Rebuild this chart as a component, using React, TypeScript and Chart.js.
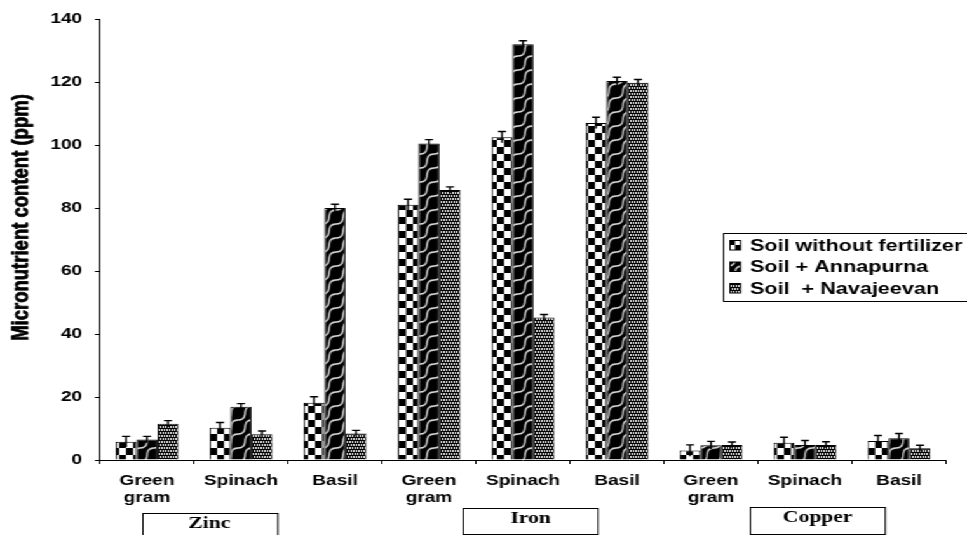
import React, { useEffect, useRef } from 'react';
import { Chart, registerables } from 'chart.js';

Chart.register(...registerables);

// ---- data ----
const cropLabels: (string | string[])[] = [
  ['Green', 'gram'], 'Spinach', 'Basil',
  ['Green', 'gram'], 'Spinach', 'Basil',
  ['Green', 'gram'], 'Spinach', 'Basil',
];
const nutrientGroups = ['Zinc', 'Iron', 'Copper'];
const seriesNames = ['Soil without fertilizer', 'Soil + Annapurna', 'Soil  + Navajeevan'];

const soilWithoutFertilizer = [5.8, 10.2, 18.2, 81.0, 102.5, 107.0, 3.0, 5.5, 6.0];
const soilAnnapurna = [6.5, 16.9, 80.0, 100.5, 132.0, 120.3, 4.7, 4.8, 6.9];
const soilNavajeevan = [11.5, 8.2, 8.4, 85.7, 45.2, 119.8, 4.8, 4.8, 3.7];

const errWithoutFertilizer = [1.7, 1.7, 1.9, 1.8, 1.8, 1.8, 1.8, 1.7, 1.8];
const errAnnapurna = [1.0, 1.0, 1.2, 1.2, 1.1, 1.2, 1.2, 1.4, 1.5];
const errNavajeevan = [1.0, 1.0, 1.0, 1.0, 1.0, 1.0, 0.9, 1.0, 1.0];

const yMin = 0;
const yMax = 140;
const yStep = 20;
const yTitle = 'Micronutrient content (ppm)';

// ---- layout ----
// The chart is drawn on a narrower canvas and widened horizontally,
// which gives the broad bold lettering of the printed figure.
const STRETCH = 967 / 761;
const BASE_W = 761;
const BASE_H = 535;
const FONT = 'Liberation Sans';

function makeTile(w: number, h: number) {
  const c = document.createElement('canvas');
  c.width = w;
  c.height = h;
  return c;
}

function makePatterns(ctx: CanvasRenderingContext2D): CanvasPattern[] {
  const squeeze = new DOMMatrix([1 / STRETCH, 0, 0, 1, 0, 0]);

  // coarse checkerboard
  const a = makeTile(14, 14);
  const ac = a.getContext('2d')!;
  ac.fillStyle = '#fff';
  ac.fillRect(0, 0, 14, 14);
  ac.fillStyle = '#000';
  ac.fillRect(0, 0, 7, 7);
  ac.fillRect(7, 7, 7, 7);
  const pa = ctx.createPattern(a, 'repeat')!;
  pa.setTransform(squeeze);

  // black with pale braided diagonals
  const b = makeTile(14, 14);
  const bc = b.getContext('2d')!;
  bc.fillStyle = '#000';
  bc.fillRect(0, 0, 14, 14);
  bc.strokeStyle = '#d8d8d8';
  bc.lineWidth = 1.7;
  const wave = (ox: number, oy: number) => {
    bc.beginPath();
    for (let i = 0; i <= 28; i++) {
      const t = i / 28;
      const off = 2.4 * Math.sin(2 * Math.PI * t);
      const x = 14 * t + off / Math.SQRT2 + ox;
      const y = 14 - 14 * t + off / Math.SQRT2 + oy;
      if (i === 0) bc.moveTo(x, y);
      else bc.lineTo(x, y);
    }
    bc.stroke();
  };
  [[0, 0], [14, 0], [-14, 0], [0, 14], [0, -14]].forEach(([x, y]) => wave(x, y));
  const pb = ctx.createPattern(b, 'repeat')!;
  pb.setTransform(squeeze);

  // fine staggered dots, built on whole canvas pixels
  const c = makeTile(4, 6);
  const cc = c.getContext('2d')!;
  cc.fillStyle = '#000';
  cc.fillRect(0, 0, 4, 6);
  cc.fillStyle = '#fff';
  cc.fillRect(0, 0, 1, 2);
  cc.fillRect(2, 0, 1, 2);
  cc.fillRect(1, 3, 1, 2);
  cc.fillRect(3, 3, 1, 2);
  const pc = ctx.createPattern(c, 'repeat')!;

  return [pa, pb, pc];
}

const errorBarsPlugin = {
  id: 'errorBars',
  afterDatasetsDraw(chart: any) {
    const { ctx, scales } = chart;
    const errs = [errWithoutFertilizer, errAnnapurna, errNavajeevan];
    ctx.save();
    ctx.strokeStyle = '#000';
    ctx.lineWidth = 1.4;
    chart.data.datasets.forEach((ds: any, di: number) => {
      const meta = chart.getDatasetMeta(di);
      meta.data.forEach((bar: any, i: number) => {
        const v = ds.data[i];
        const e = errs[di][i];
        const yTop = scales.y.getPixelForValue(v + e);
        const yBot = scales.y.getPixelForValue(v - e);
        const half = 4 / STRETCH;
        ctx.beginPath();
        ctx.moveTo(bar.x, yBot);
        ctx.lineTo(bar.x, yTop);
        ctx.moveTo(bar.x - half, yTop);
        ctx.lineTo(bar.x + half, yTop);
        ctx.stroke();
      });
    });
    ctx.restore();
  },
};

const decorPlugin = {
  id: 'decor',
  afterDraw(chart: any) {
    const { ctx, scales } = chart;
    ctx.save();
    ctx.fillStyle = '#000';
    ctx.strokeStyle = '#000';

    // y axis title, set heavy and tight
    ctx.save();
    ctx.translate(28.3 / STRETCH, 217.5);
    ctx.rotate(-Math.PI / 2);
    ctx.font = `bold 18.5px "${FONT}"`;
    ctx.textAlign = 'center';
    ctx.textBaseline = 'alphabetic';
    ctx.lineWidth = 0.7;
    ctx.lineJoin = 'round';
    ctx.fillText(yTitle, 0, 0);
    ctx.strokeText(yTitle, 0, 0);
    ctx.restore();

    // legend
    ctx.lineWidth = 1;
    const lx = 723 / STRETCH;
    ctx.strokeRect(lx + 0.5, 233.5, 260, 68);
    const rows = [245, 266.5, 288];
    ctx.font = `bold 17px "${FONT}"`;
    ctx.textAlign = 'left';
    ctx.textBaseline = 'middle';
    chart.data.datasets.forEach((ds: any, i: number) => {
      const sx = 730 / STRETCH;
      const sw = 10.5 / STRETCH;
      const sy = rows[i] - 4.5;
      ctx.fillStyle = ds.backgroundColor;
      ctx.fillRect(sx, sy, sw, 9.5);
      ctx.strokeRect(sx, sy, sw, 9.5);
      ctx.fillStyle = '#000';
      ctx.fillText(ds.label, 750 / STRETCH, rows[i] + 1);
    });

    // nutrient group boxes under the crop labels
    const shift = [-25, 6, 10];
    const tops = [513, 508, 507];
    const heights = [28, 26, 27];
    const boxW = 135 / STRETCH;
    ctx.font = `bold 17px "Liberation Serif"`;
    ctx.textAlign = 'center';
    ctx.textBaseline = 'alphabetic';
    nutrientGroups.forEach((name, g) => {
      const cx = scales.x.getPixelForValue(g * 3 + 1) + shift[g];
      const x0 = Math.round(cx - boxW / 2) + 0.5;
      ctx.strokeRect(x0, tops[g] + 0.5, boxW, heights[g]);
      ctx.fillText(name, cx, tops[g] + 15);
    });

    ctx.restore();
  },
};

export default function App() {
  const canvasRef = useRef<HTMLCanvasElement | null>(null);

  useEffect(() => {
    const canvas = canvasRef.current;
    if (!canvas) return;
    const ctx = canvas.getContext('2d')!;
    const patterns = makePatterns(ctx);
    const seriesData = [soilWithoutFertilizer, soilAnnapurna, soilNavajeevan];
    const tickFont = { family: FONT, size: 15, weight: 'bold' as const, lineHeight: 1.1 };

    const chart = new Chart(canvas, {
      type: 'bar',
      data: {
        labels: cropLabels,
        datasets: seriesData.map((d, i) => ({
          label: seriesNames[i],
          data: d,
          backgroundColor: patterns[i],
          borderColor: '#000',
          borderWidth: 1,
          categoryPercentage: 0.67,
          barPercentage: 1,
        })),
      },
      options: {
        animation: false,
        responsive: true,
        maintainAspectRatio: false,
        events: [],
        layout: { padding: { left: 0, top: 18, right: BASE_W - 946 / STRETCH, bottom: 0 } },
        plugins: {
          legend: { display: false },
          tooltip: { enabled: false },
          title: { display: false },
        },
        scales: {
          x: {
            offset: true,
            grid: { offset: true, drawOnChartArea: false, drawTicks: true, tickLength: 4, color: '#000' },
            border: { color: '#000', width: 1 },
            ticks: { color: '#000', font: tickFont, padding: 9, maxRotation: 0, autoSkip: false },
            afterFit: (s: any) => { s.height = 75; },
          },
          y: {
            min: yMin,
            max: yMax,
            grid: { drawOnChartArea: false, drawTicks: true, tickLength: 4, color: '#000' },
            border: { color: '#000', width: 1 },
            ticks: { stepSize: yStep, color: '#000', font: { ...tickFont, lineHeight: 1.2 }, padding: 10 },
            afterFit: (s: any) => { s.width = 100 / STRETCH; },
          },
        },
      },
      plugins: [errorBarsPlugin, decorPlugin],
    });

    return () => chart.destroy();
  }, []);

  return (
    <div
      style={{
        position: 'absolute',
        left: 0,
        top: 0,
        width: BASE_W,
        height: BASE_H,
        transform: `scaleX(${STRETCH})`,
        transformOrigin: '0 0',
        background: '#fff',
      }}
    >
      <canvas ref={canvasRef} />
    </div>
  );
}
